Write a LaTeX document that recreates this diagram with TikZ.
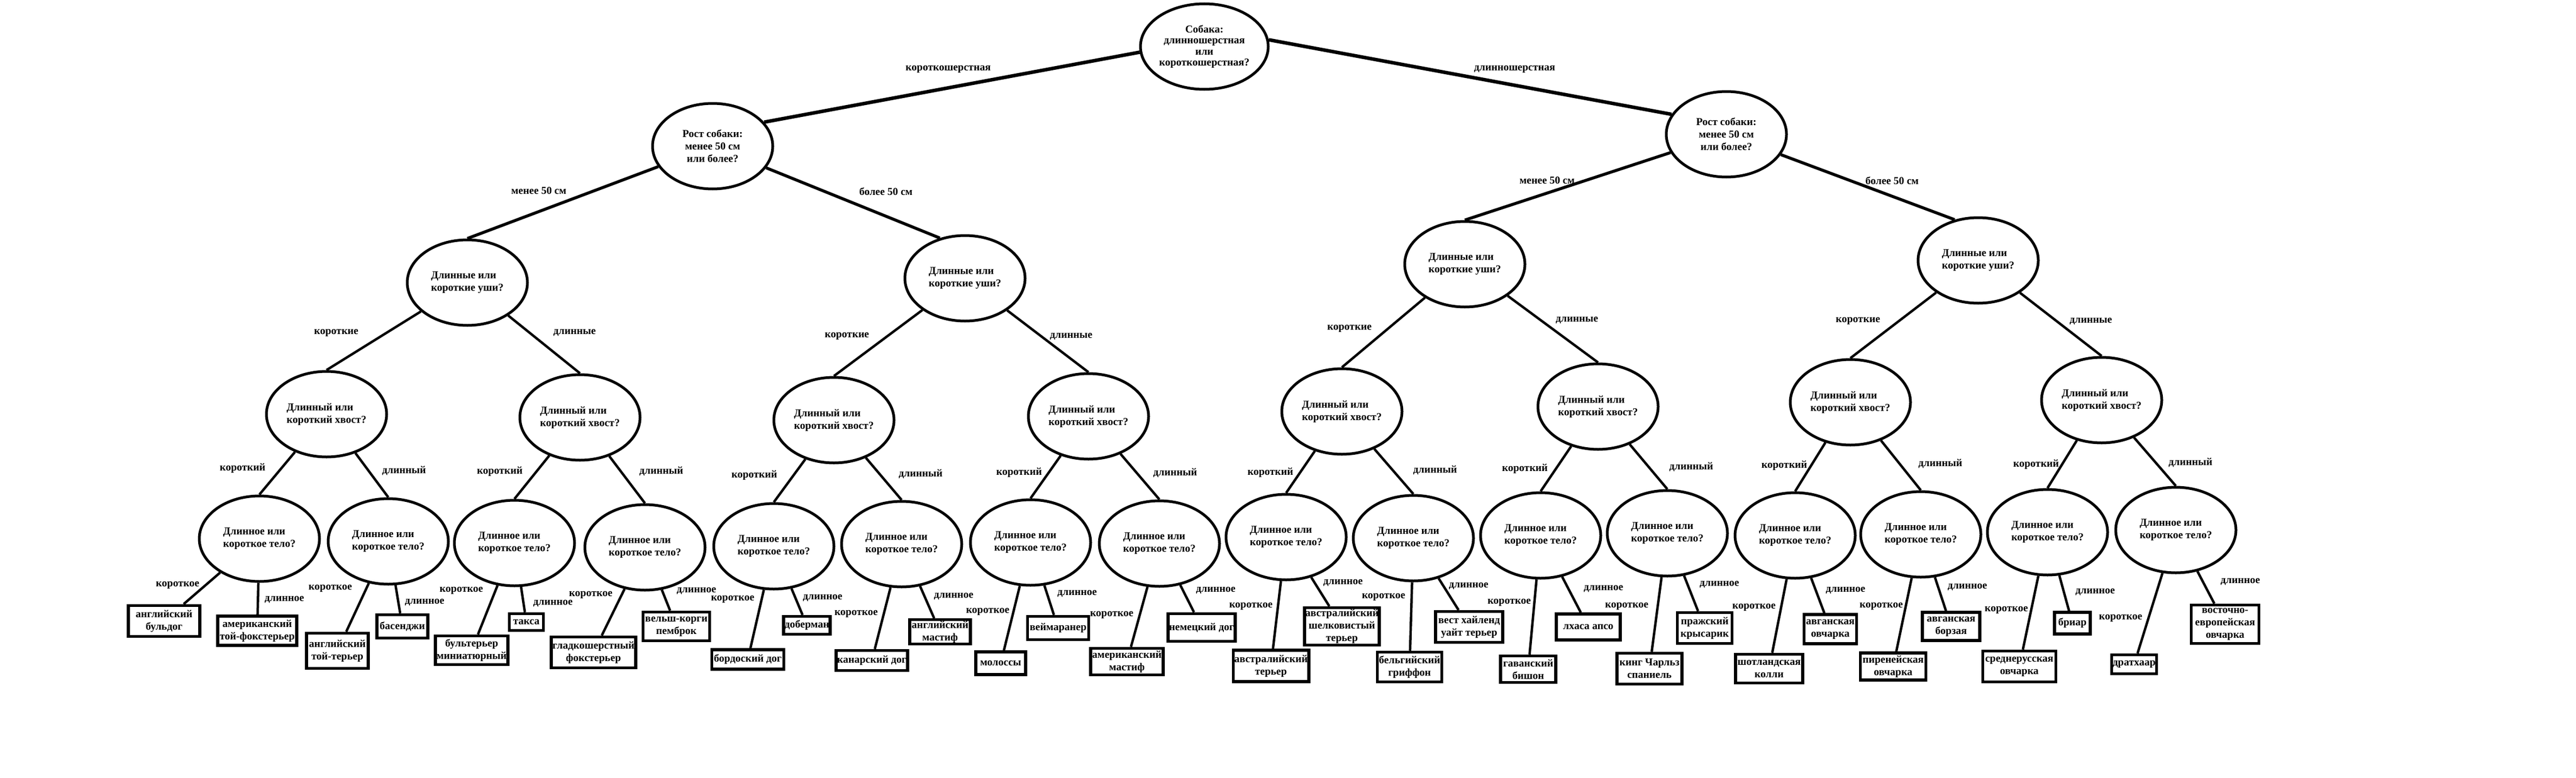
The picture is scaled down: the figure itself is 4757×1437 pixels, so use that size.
\documentclass[tikz,border=0pt]{standalone}
\usepackage{fontspec}
\setmainfont{Liberation Serif}
\usetikzlibrary{shapes.geometric}
\newcommand\qfont{\bfseries\fontsize{19.5pt}{23pt}\selectfont}
\newcommand\rfont{\bfseries\fontsize{19.5pt}{20.5pt}\selectfont}
\tikzset{
  q/.style={ellipse, draw, fill=white, line width=5pt, minimum width=222pt, minimum height=158pt, inner sep=0pt, font=\qfont},
  qc/.style={q, align=center},
  ql/.style={q, align=left},
  leaf/.style={rectangle, draw, fill=white, line width=5.5pt, inner sep=2pt, align=center, font=\qfont},
  lab/.style={inner sep=0pt, font=\qfont},
  e0/.style={line width=6.5pt},
  e1/.style={line width=5.5pt},
  e2/.style={line width=4.5pt},
}
\begin{document}
\begin{tikzpicture}[x=1pt,y=-1pt]
\fill[white] (0,0) rectangle (4757,1437);
\useasboundingbox (0,0) rectangle (4757,1437);

% root and level 1
\node[qc, font=\rfont] (R0) at (2224,86) {Собака:\\длинношерстная\\или\\короткошерстная?};
\node[qc] (A1) at (1316,270) {Рост собаки:\\менее 50 см\\или более?};
\node[qc] (A2) at (3188,248) {Рост собаки:\\менее 50 см\\или более?};

% level 2 (ears)
\foreach \n/\x/\y in {E1/863/522, E2/1782/514, E3/2705/488, E4/3653/481}
  \node[ql] (\n) at (\x,\y) {Длинные или\\короткие уши?};

% level 3 (tail)
\foreach \n/\x/\y in {T1/603/765, T2/1071/771, T3/1540/776, T4/2010/769,
                      T5/2478/760, T6/2951/751, T7/3417/743, T8/3881/739}
  \node[ql] (\n) at (\x,\y) {Длинный или\\короткий хвост?};

% level 4 (body)
\foreach \n/\x/\y in {B1/479/995, B2/717/1000, B3/950/1003, B4/1191/1011,
                      B5/1429/1009, B6/1665/1005, B7/1903/1002, B8/2141/1004,
                      B9/2375/992, B10/2610/994, B11/2845/989, B12/3079/985,
                      B13/3315/989, B14/3547/987, B15/3781/983, B16/4018/979}
  \node[ql] (\n) at (\x,\y) {Длинное или\\короткое тело?};

% leaves
\node[leaf, minimum width=132pt, minimum height=57pt] (L1) at (303,1147) {английский\\бульдог};
\node[leaf, minimum width=146pt, minimum height=54pt] (L2) at (475,1165) {американский\\той-фокстерьер};
\node[leaf, minimum width=114pt, minimum height=65pt] (L3) at (623,1202) {английский\\той-терьер};
\node[leaf, minimum width=94pt, minimum height=43pt] (L4) at (743,1157) {басенджи};
\node[leaf, minimum width=134pt, minimum height=53pt] (L5) at (871,1201) {бультерьер\\миниатюрный};
\node[leaf, minimum width=63pt, minimum height=31pt] (L6) at (972,1149) {такса};
\node[leaf, minimum width=156pt, minimum height=57pt] (L7) at (1096,1205) {гладкошерстный\\фокстерьер};
\node[leaf, minimum width=123pt, minimum height=53pt] (L8) at (1249,1157) {вельш-корги\\пемброк};
\node[leaf, minimum width=133pt, minimum height=36pt] (L9) at (1381,1218) {бордоский дог};
\node[leaf, minimum width=85pt, minimum height=33pt] (L10) at (1490,1155) {доберман};
\node[leaf, minimum width=131pt, minimum height=37pt] (L11) at (1610,1220) {канарский дог};
\node[leaf, minimum width=112pt, minimum height=43pt] (L12) at (1736,1167) {английский\\мастиф};
\node[leaf, minimum width=92pt, minimum height=42pt] (L13) at (1848,1225) {молоссы};
\node[leaf, minimum width=113pt, minimum height=43pt] (L14) at (1954,1160) {веймаранер};
\node[leaf, minimum width=134pt, minimum height=49pt] (L15) at (2081,1222) {американский\\мастиф};
\node[leaf, minimum width=123pt, minimum height=51pt] (L16) at (2219,1159) {немецкий дог};
\node[leaf, minimum width=137pt, minimum height=58pt] (L17) at (2347,1230) {австралийский\\терьер};
\node[leaf, minimum width=138pt, minimum height=69pt, inner sep=0pt] (L18) at (2478,1157) {австралийский\\шелковистый\\терьер};
\node[leaf, minimum width=119pt, minimum height=55pt] (L19) at (2603,1232) {бельгийский\\гриффон};
\node[leaf, minimum width=124pt, minimum height=57pt] (L20) at (2713,1158) {вест хайленд\\уайт терьер};
\node[leaf, minimum width=102pt, minimum height=49pt] (L21) at (2822,1236) {гаванский\\бишон};
\node[leaf, minimum width=118pt, minimum height=48pt] (L22) at (2933,1158) {лхаса апсо};
\node[leaf, minimum width=120pt, minimum height=57pt] (L23) at (3046,1235) {кинг Чарльз\\спаниель};
\node[leaf, minimum width=101pt, minimum height=57pt] (L24) at (3148,1160) {пражский\\крысарик};
\node[leaf, minimum width=124pt, minimum height=53pt] (L25) at (3267,1235) {шотландская\\колли};
\node[leaf, minimum width=97pt, minimum height=54pt] (L26) at (3380,1162) {авганская\\овчарка};
\node[leaf, minimum width=121pt, minimum height=50pt] (L27) at (3496,1231) {пиренейская\\овчарка};
\node[leaf, minimum width=106pt, minimum height=52pt] (L28) at (3603,1157) {авганская\\борзая};
\node[leaf, minimum width=135pt, minimum height=57pt] (L29) at (3729,1231) {среднерусская\\овчарка};
\node[leaf, minimum width=66pt, minimum height=40pt] (L30) at (3827,1151) {бриар};
\node[leaf, minimum width=83pt, minimum height=35pt] (L31) at (3941,1227) {дратхаар};
\node[leaf, minimum width=125pt, minimum height=71pt, inner sep=0pt] (L32) at (4109,1153) {восточно-\\европейская\\овчарка};

% connectors
\draw[e0] (R0.185) -- (A1.25);
\draw[e0] (R0.6) -- (A2.160);
\draw[e1] (A1) -- (E1.north);
\draw[e1] (A1) -- (E2.122);
\draw[e1] (A2) -- (E3.north);
\draw[e1] (A2) -- (E4.120);
\foreach \p/\a/\b in {E1/T1/T2, E2/T3/T4, E3/T5/T6, E4/T7/T8}{
  \draw[e2] (\p) -- (\a.north);
  \draw[e2] (\p) -- (\b.north);
}
\foreach \p/\a/\b in {T1/B1/B2, T2/B3/B4, T3/B5/B6, T4/B7/B8,
                      T5/B9/B10, T6/B11/B12, T7/B13/B14, T8/B15/B16}{
  \draw[e2] (\p) -- (\a.north);
  \draw[e2] (\p) -- (\b.north);
}
\foreach \p/\a/\b in {B1/L1/L2, B2/L3/L4, B3/L5/L6, B4/L7/L8,
                      B5/L9/L10, B6/L11/L12, B7/L13/L14, B8/L15/L16,
                      B9/L17/L18, B10/L19/L20, B11/L21/L22, B12/L23/L24,
                      B13/L25/L26, B14/L27/L28, B15/L29/L30, B16/L31/L32}{
  \draw[e2] (\p) -- (\a);
  \draw[e2] (\p) -- (\b);
}

% edge labels
\node[lab] (k0) at (1751,128) {короткошерстная};
\node[lab] (d0) at (2797,128) {длинношерстная};
\node[lab] (m1) at (995,352) {менее 50 см};
\node[lab] (b1) at (1636,354) {более 50 см};
\node[lab] (m2) at (2857,333) {менее 50 см};
\node[lab] (b2) at (3494,334) {более 50 см};
\foreach \i/\xa/\ya/\xb/\yb in {1/621/615/1061/615, 2/1564/621/1978/622,
                                3/2492/607/2912/592, 4/3431/593/3861/594}{
  \node[lab] (ke\i) at (\xa,\ya) {короткие};
  \node[lab] (de\i) at (\xb,\yb) {длинные};
}
\foreach \i/\xa/\ya/\xb/\yb in {1/448/865/746/869, 2/923/871/1221/870,
                                3/1393/878/1700/875, 4/1882/873/2170/873,
                                5/2346/873/2650/868, 6/2816/866/3123/862,
                                7/3295/860/3583/856, 8/3760/858/4045/854}{
  \node[lab] (kt\i) at (\xa,\ya) {короткий};
  \node[lab] (dt\i) at (\xb,\yb) {длинный};
}
\foreach \i/\xa/\ya/\xb/\yb in {1/328/1081/525/1108, 2/610/1087/784/1113,
                                3/852/1091/1021/1115, 4/1091/1099/1286/1092,
                                5/1353/1107/1519/1105, 6/1581/1134/1761/1102,
                                7/1824/1130/1989/1097, 8/2053/1136/2245/1091,
                                9/2310/1120/2480/1077, 10/2555/1103/2712/1083,
                                11/2787/1113/2961/1088, 12/3004/1120/3175/1080,
                                13/3239/1122/3408/1091, 14/3474/1120/3633/1085,
                                15/3705/1127/3869/1094, 16/3916/1142/4137/1075}{
  \node[lab] (kb\i) at (\xa,\ya) {короткое};
  \node[lab] (db\i) at (\xb,\yb) {длинное};
}
\end{tikzpicture}
\end{document}
